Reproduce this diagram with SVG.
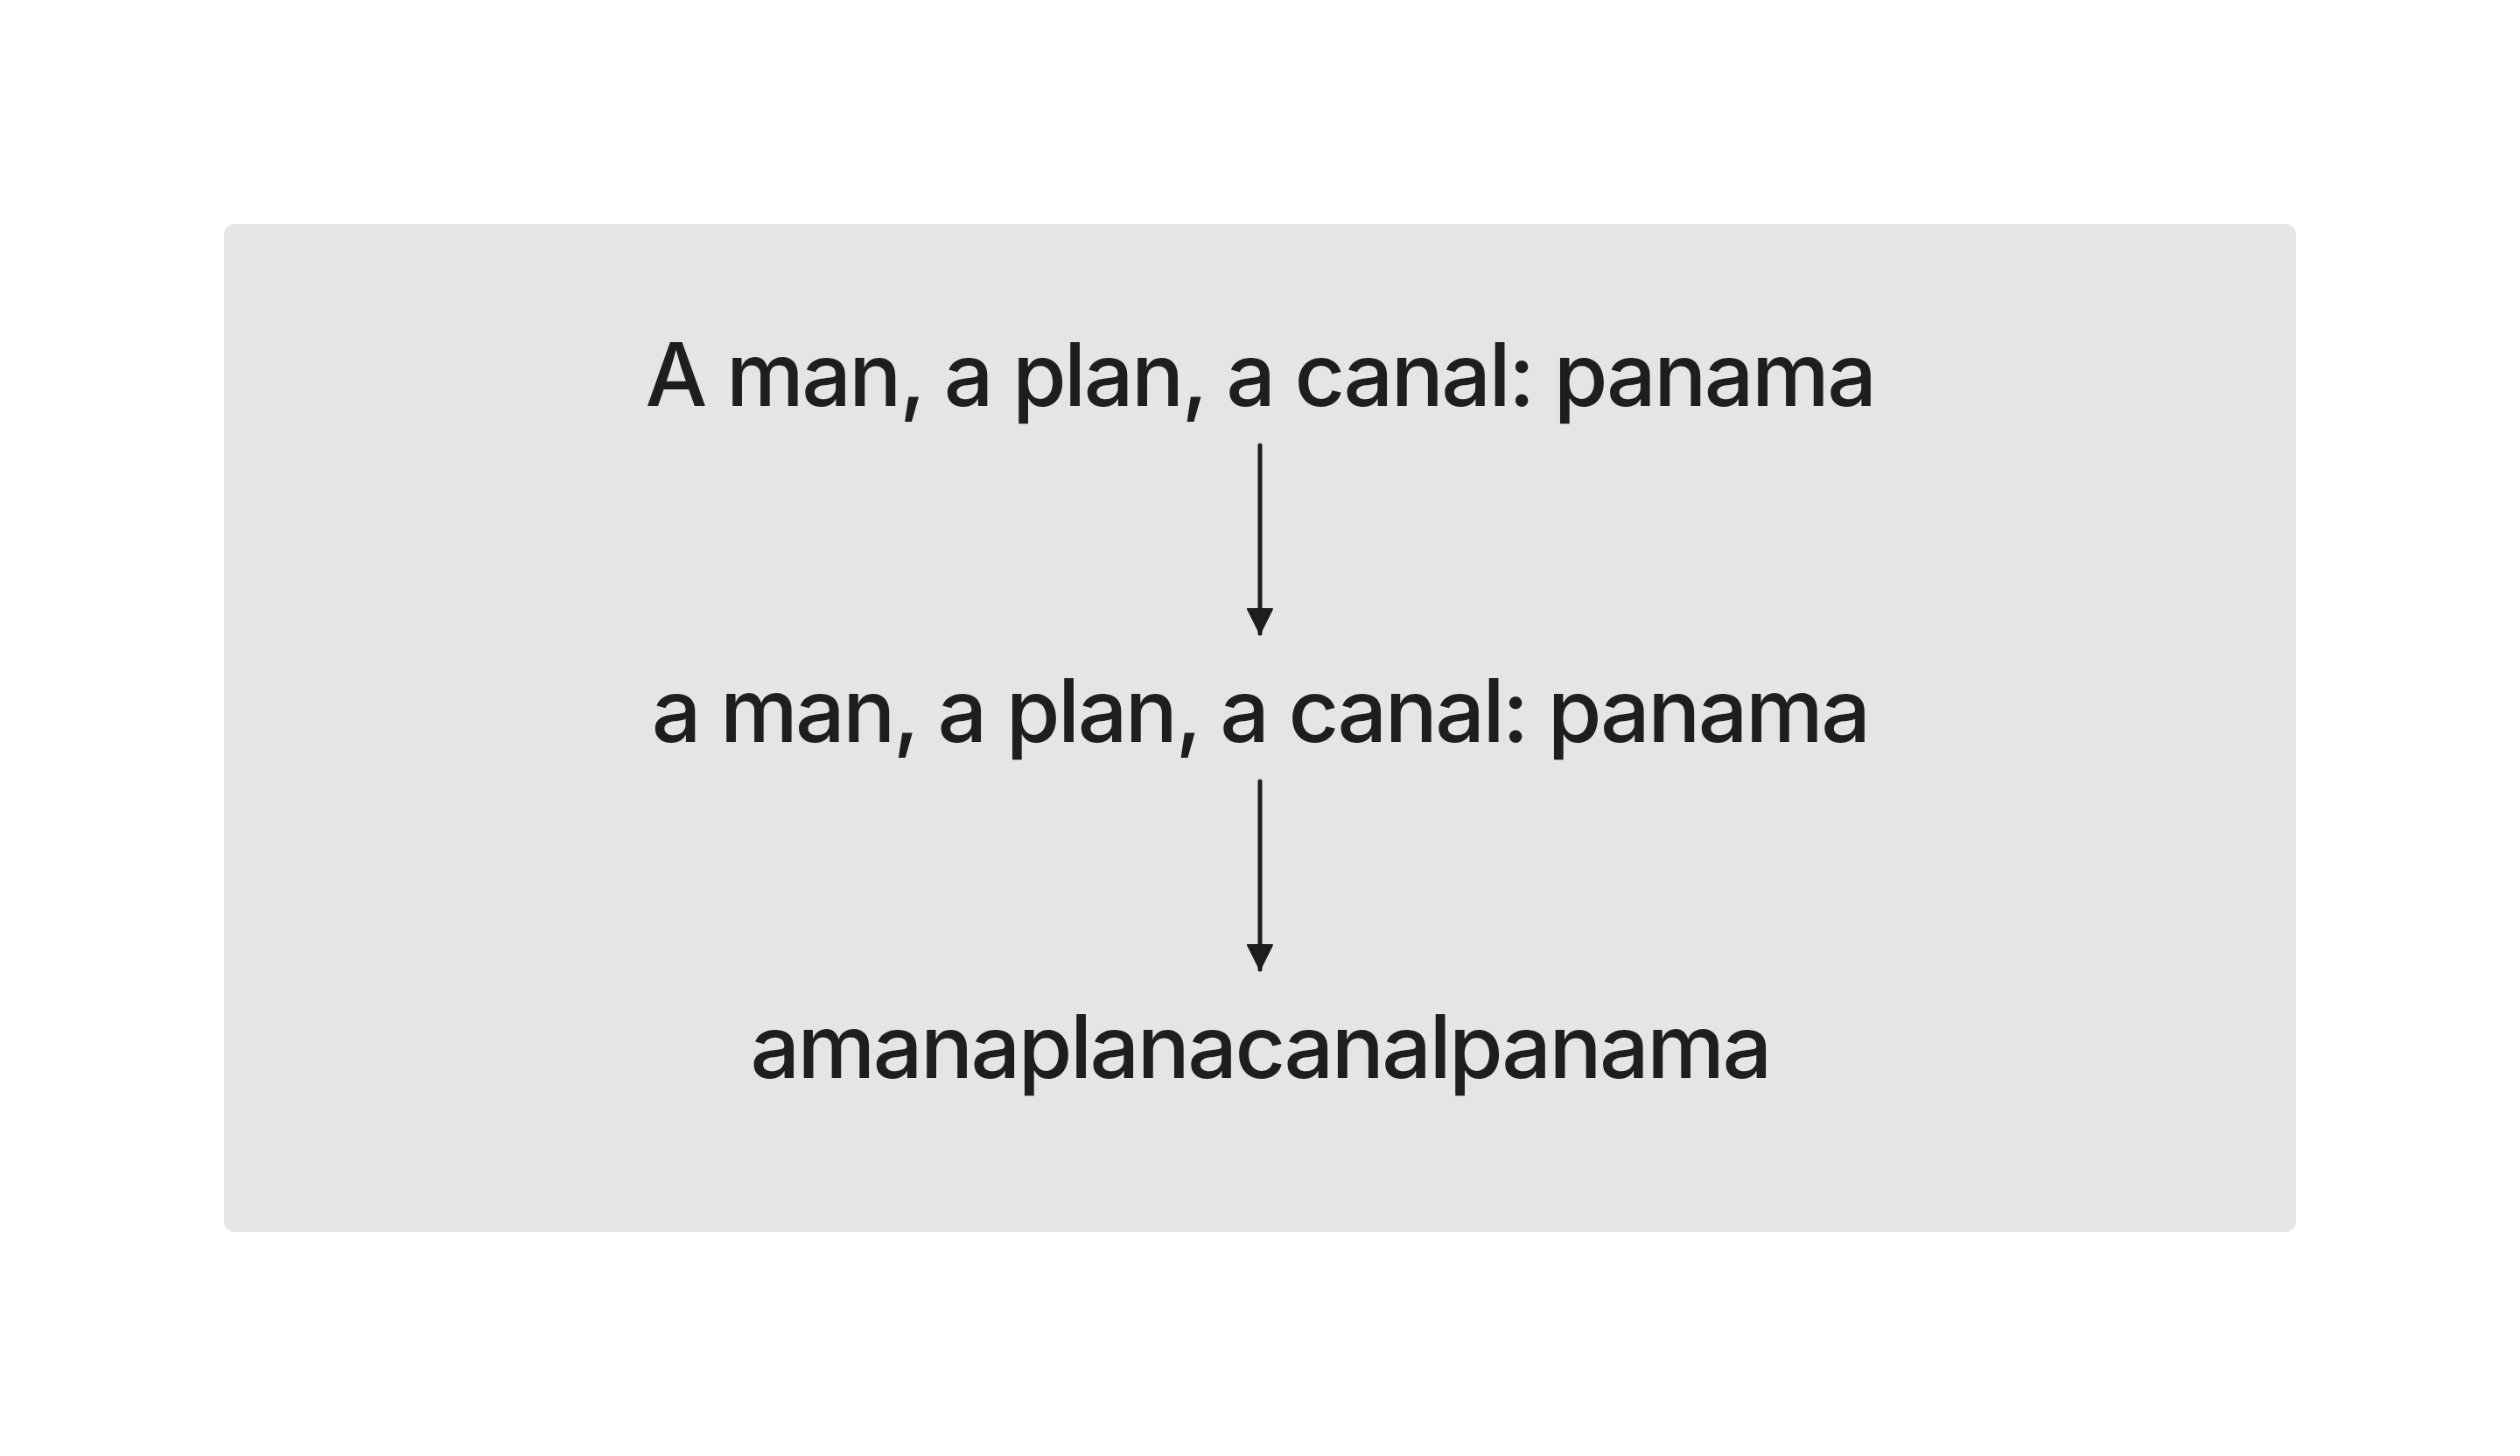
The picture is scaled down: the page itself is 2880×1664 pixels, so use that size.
<svg xmlns="http://www.w3.org/2000/svg" width="2880" height="1664" viewBox="0 0 2880 1664">
<style>
.t{font-family:Inter,"Noto Sans","Liberation Sans",sans-serif;font-size:100px;font-weight:500;letter-spacing:-2.6px;fill:#1e1e1e;text-anchor:middle}
.c{stroke:#1e1e1e;stroke-width:5;stroke-linecap:round;fill:none}
</style>
<defs>
<marker id="ah" markerUnits="userSpaceOnUse" markerWidth="34" markerHeight="30" refX="30" refY="15" orient="auto">
<path d="M2,1 L30,15 L2,29 Z" fill="#1e1e1e" stroke="#1e1e1e" stroke-width="2" stroke-linejoin="round"/>
</marker>
</defs>
<rect width="2880" height="1664" fill="#ffffff"/>
<g id="panel"><rect x="256" y="256" width="2368" height="1152" rx="12" fill="#e5e5e5"/></g>
<g id="node-original"><text class="t" x="1440" y="464">A man, a plan, a canal: panama</text></g>
<g id="node-lower"><text class="t" x="1440" y="848">a man, a plan, a canal: panama</text></g>
<g id="node-stripped"><text class="t" x="1440" y="1232">amanaplanacanalpanama</text></g>
<g id="connectors">
<line class="c" x1="1440" y1="509" x2="1440" y2="724" marker-end="url(#ah)"/>
<line class="c" x1="1440" y1="893" x2="1440" y2="1108" marker-end="url(#ah)"/>
</g>
</svg>
